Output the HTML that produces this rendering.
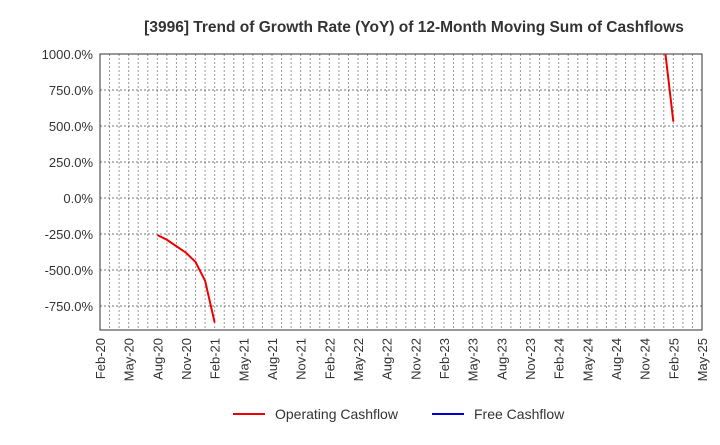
<!DOCTYPE html>
<html><head><meta charset="utf-8"><style>
body{margin:0;background:#fff;font-family:"Liberation Sans",sans-serif}
</style></head><body>
<svg id="c" width="720" height="440" xmlns="http://www.w3.org/2000/svg" font-family="Liberation Sans, sans-serif">
<text x="414" y="32" text-anchor="middle" font-size="15.5" font-weight="bold" fill="#333">[3996]  Trend of Growth Rate (YoY) of 12-Month Moving Sum of Cashflows</text>
<g id="grid"></g><g id="axes"></g><g id="series"></g>
<g>
<line x1="233" y1="414" x2="265" y2="414" stroke="#e00" stroke-width="2"/>
<text x="275" y="419" font-size="14" fill="#333">Operating Cashflow</text>
<line x1="432" y1="414" x2="464" y2="414" stroke="#00c" stroke-width="2"/>
<text x="474" y="419" font-size="14" fill="#333">Free Cashflow</text>
</g>
</svg>
<script>
const yTicks=[1000,750,500,250,0,-250,-500,-750];
const xLabels=["Feb-20","May-20","Aug-20","Nov-20","Feb-21","May-21","Aug-21","Nov-21","Feb-22","May-22","Aug-22","Nov-22","Feb-23","May-23","Aug-23","Nov-23","Feb-24","May-24","Aug-24","Nov-24","Feb-25","May-25"];
const opMonths1=[6,7,8,9,10,11,12];
const opValues1=[-257,-290,-335,-380,-445,-575,-865];
const opMonths2=[59,60];
const opValues2=[1100,530];
const L=100,R=702,T=54,B=330,NS="http://www.w3.org/2000/svg";
const xs=m=>L+m*(R-L)/63;
const ys=v=>198-v*0.144;
function mk(p,t,a){const e=document.createElementNS(NS,t);for(const k in a)e.setAttribute(k,a[k]);document.getElementById(p).appendChild(e);return e;}
for(let m=1;m<63;m++){const e=mk('grid','line',{x1:xs(m),x2:xs(m),y1:T,y2:B,stroke:'#999','stroke-dasharray':'2,2','stroke-width':1});

}
yTicks.forEach(v=>{const y=ys(v);if(v<1000){const g=mk('grid','line',{x1:L,x2:R,y1:y,y2:y,stroke:'#777','stroke-dasharray':'2,2'});

}
const t=mk('axes','text',{x:L-7,y:y+5,'text-anchor':'end','font-size':13,fill:'#333'});t.textContent=v.toFixed(1)+'%';

});
xLabels.forEach((s,i)=>{const x=xs(i*3);const t=mk('axes','text',{x:x+5,y:338,'text-anchor':'end','font-size':13,fill:'#333',transform:`rotate(-90 ${x+5} 338)`});t.textContent=s;

});
const f=mk('axes','rect',{x:L,y:T,width:R-L,height:B-T,fill:'none',stroke:'#333'});


const cp=mk('series','clipPath',{id:'cl'});const cr=document.createElementNS(NS,'rect');cr.setAttribute('x',L);cr.setAttribute('y',T);cr.setAttribute('width',R-L);cr.setAttribute('height',B-T);cp.appendChild(cr);
[[opMonths1,opValues1],[opMonths2,opValues2]].forEach(([ms,vs])=>{const p=mk('series','polyline',{points:ms.map((m,i)=>xs(m)+','+ys(vs[i])).join(' '),fill:'none',stroke:'#e00','stroke-width':2,'clip-path':'url(#cl)'});

});
</script>
</body></html>
